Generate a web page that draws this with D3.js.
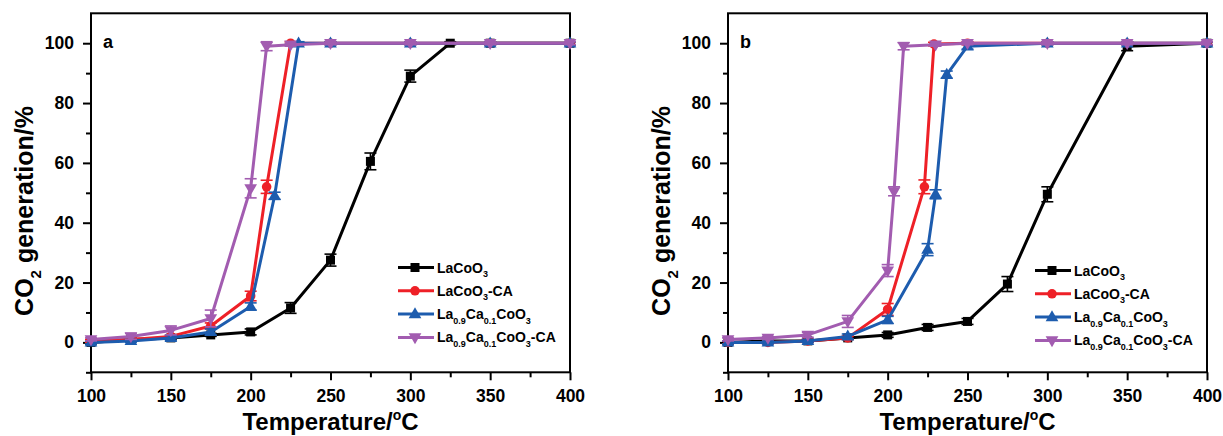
<!DOCTYPE html>
<html>
<head>
<meta charset="utf-8">
<script src="https://cdn.jsdelivr.net/npm/d3@7"></script>
<style>
  body { margin: 0; background: #fff; }
  svg { display: block; font-family: "Liberation Sans", Arial, sans-serif; font-weight: bold; }
</style>
</head>
<body>
<div id="chart"></div>
<script>
// ---- data ----
const seriesNames = ['LaCoO3', 'LaCoO3-CA', 'La0.9Ca0.1CoO3', 'La0.9Ca0.1CoO3-CA'];
const seriesColors = ['#000000', '#ee2027', '#1d5cae', '#a25cb0'];
const seriesSymbols = ['square', 'circle', 'triUp', 'triDown'];

// panel a
const aBlackX = [100, 125, 150, 175, 200, 225, 250, 275, 300, 325, 350, 400];
const aBlackY = [0, 1, 1.5, 2.5, 3.5, 11.5, 27.5, 60.5, 89, 100, 100, 100];
const aBlackE = [0.5, 0.5, 0.5, 0.5, 1, 1.8, 2, 2.8, 2, 0.5, 0.5, 0.5];
const aRedX = [100, 125, 150, 175, 200, 210, 225, 250, 300, 350, 400];
const aRedY = [0.5, 1, 2, 5.5, 15.5, 52, 100, 100, 100, 100, 100];
const aRedE = [0.5, 0.5, 0.5, 1, 1.6, 2.2, 0.5, 0.5, 0.5, 0.5, 0.5];
const aBlueX = [100, 125, 150, 175, 200, 215, 230, 250, 300, 350, 400];
const aBlueY = [0, 0.5, 1.5, 3.5, 12, 49, 100, 100, 100, 100, 100];
const aBlueE = [0.5, 0.5, 0.8, 1, 1.2, 1.2, 0.5, 0.5, 0.5, 0.5, 0.5];
const aPurpleX = [100, 125, 150, 175, 200, 210, 225, 250, 300, 350, 400];
const aPurpleY = [1, 2, 4, 8, 51.5, 99, 99.5, 100, 100, 100, 100];
const aPurpleE = [0.5, 1, 1.5, 2.8, 3.2, 1.5, 0.5, 0.5, 0.5, 0.5, 0.5];

// panel b
const bBlackX = [100, 125, 150, 175, 200, 225, 250, 275, 300, 350, 400];
const bBlackY = [0, 0.5, 0.5, 1.5, 2.5, 5, 7, 19.5, 49.5, 99, 100];
const bBlackE = [0.5, 0.5, 0.5, 0.5, 0.8, 1, 1, 2.5, 2.5, 1.5, 0.5];
const bRedX = [100, 125, 150, 175, 200, 223, 229, 250, 300, 350, 400];
const bRedY = [0, 0, 0.5, 1.5, 11, 52, 99.7, 100, 100, 100, 100];
const bRedE = [0.5, 0.5, 0.5, 0.5, 2, 2.3, 0.6, 0.5, 0.5, 0.5, 0.5];
const bBlueX = [100, 125, 150, 175, 200, 225, 230, 237, 250, 300, 350, 400];
const bBlueY = [0, 0, 0.5, 2, 7.5, 31, 49.5, 89.5, 99, 100, 100, 100];
const bBlueE = [0.5, 0.5, 0.5, 0.8, 1.2, 2, 1.5, 1.2, 1, 0.5, 0.5, 0.5];
const bPurpleX = [100, 125, 150, 175, 200, 204, 210, 230, 250, 300, 350, 400];
const bPurpleY = [1, 1.5, 2.5, 7, 24, 50.5, 99, 99.5, 100, 100, 100, 100];
const bPurpleE = [0.5, 0.5, 0.8, 2, 2, 1.5, 1.2, 0.5, 0.5, 0.5, 0.5, 0.5];

const xMajor = [100, 150, 200, 250, 300, 350, 400];
const xMinor = [125, 175, 225, 275, 325, 375];
const yMajor = [0, 20, 40, 60, 80, 100];
const yMinor = [-10, 10, 30, 50, 70, 90];

function zip(xs, ys, es) {
  return xs.map((x, i) => ({ x: x, y: ys[i], e: es[i] }));
}

const panels = [
  { label: 'a', left: 91, legendDy: 0,
    series: [zip(aBlackX, aBlackY, aBlackE), zip(aRedX, aRedY, aRedE), zip(aBlueX, aBlueY, aBlueE), zip(aPurpleX, aPurpleY, aPurpleE)] },
  { label: 'b', left: 728, legendDy: 3,
    series: [zip(bBlackX, bBlackY, bBlackE), zip(bRedX, bRedY, bRedE), zip(bBlueX, bBlueY, bBlueE), zip(bPurpleX, bPurpleY, bPurpleE)] }
];

const W = 1223, H = 436;
const plotW = 479, plotTop = 13.3, plotBottom = 372.3;

const svg = d3.select('#chart').append('svg').attr('width', W).attr('height', H);

function drawSymbol(g, kind, color, x, y) {
  if (kind === 'square') {
    g.append('rect').attr('x', x - 4.5).attr('y', y - 4.5).attr('width', 9).attr('height', 9).attr('fill', color);
  } else if (kind === 'circle') {
    g.append('circle').attr('cx', x).attr('cy', y).attr('r', 4.8).attr('fill', color);
  } else {
    const s = d3.symbol().type(d3.symbolTriangle).size(70)();
    g.append('path').attr('d', s).attr('fill', color)
      .attr('transform', `translate(${x},${y + (kind === 'triUp' ? 0.5 : -0.5)})` + (kind === 'triDown' ? ' rotate(180)' : ''));
  }
}

// text with sub/superscripts: parts = [[text, 'sub'|'sup'|null], ...]
function richText(t, parts, baseSize, subSize) {
  parts.forEach((p, i) => {
    const ts = t.append('tspan').text(p[0]);
    let dy = 0;
    if (i > 0 && parts[i - 1][1] === 'sub') dy -= baseSize * 0.32;
    if (i > 0 && parts[i - 1][1] === 'sup') dy += baseSize * 0.42;
    if (p[1] === 'sub') dy += baseSize * 0.32;
    if (p[1] === 'sup') dy -= baseSize * 0.42;
    ts.attr('font-size', p[1] ? subSize : baseSize);
    if (dy) ts.attr('dy', dy);
  });
}

const legendParts = [
  [['LaCoO', null], ['3', 'sub']],
  [['LaCoO', null], ['3', 'sub'], ['-CA', null]],
  [['La', null], ['0.9', 'sub'], ['Ca', null], ['0.1', 'sub'], ['CoO', null], ['3', 'sub']],
  [['La', null], ['0.9', 'sub'], ['Ca', null], ['0.1', 'sub'], ['CoO', null], ['3', 'sub'], ['-CA', null]]
];

panels.forEach(p => {
  const x = d3.scaleLinear().domain([100, 400]).range([p.left, p.left + plotW]);
  const y = d3.scaleLinear().domain([-10, 110]).range([plotBottom, plotTop]);
  const g = svg.append('g');

  // axes
  const xAxis = d3.axisBottom(x).tickValues(xMajor).tickSize(8).tickPadding(9).tickFormat(d3.format('d'));
  const xAxisMinor = d3.axisBottom(x).tickValues(xMinor).tickSize(5).tickFormat('');
  const yAxis = d3.axisLeft(y).tickValues(yMajor).tickSize(8).tickPadding(9).tickFormat(d3.format('d'));
  const yAxisMinor = d3.axisLeft(y).tickValues(yMinor).tickSize(5).tickFormat('');

  [[xAxis, 'x'], [xAxisMinor, 'x'], [yAxis, 'y'], [yAxisMinor, 'y']].forEach(([ax, k]) => {
    const ag = g.append('g')
      .attr('transform', k === 'x' ? `translate(0,${plotBottom})` : `translate(${p.left},0)`)
      .call(ax);
    ag.select('.domain').remove();
    ag.selectAll('line').attr('stroke', '#000').attr('stroke-width', 2);
    ag.selectAll('text').attr('font-size', 17.5).attr('fill', '#000')
      .attr('font-family', '"Liberation Sans", Arial, sans-serif').attr('font-weight', 'bold');
  });

  g.append('rect').attr('x', p.left).attr('y', plotTop).attr('width', plotW).attr('height', plotBottom - plotTop)
    .attr('fill', 'none').attr('stroke', '#000').attr('stroke-width', 2);

  // series
  const line = d3.line().x(d => x(d.x)).y(d => y(d.y));
  p.series.forEach((data, i) => {
    const c = seriesColors[i];
    const sg = g.append('g');
    sg.append('path').datum(data).attr('d', line).attr('fill', 'none')
      .attr('stroke', c).attr('stroke-width', 3).attr('stroke-linejoin', 'round');
    data.forEach(d => {
      const cx = x(d.x), y1 = y(d.y + d.e), y2 = y(d.y - d.e);
      sg.append('line').attr('x1', cx).attr('x2', cx).attr('y1', y1).attr('y2', y2)
        .attr('stroke', c).attr('stroke-width', 1.6);
      [y1, y2].forEach(yy => sg.append('line').attr('x1', cx - 6).attr('x2', cx + 6).attr('y1', yy).attr('y2', yy)
        .attr('stroke', c).attr('stroke-width', 1.6));
      drawSymbol(sg, seriesSymbols[i], c, cx, y(d.y));
    });
  });

  // panel label
  g.append('text').attr('x', p.left + 12).attr('y', 48).attr('font-size', 18).text(p.label);

  // legend
  const lx = p.left + 307, ly = 267.5 + p.legendDy;
  seriesNames.forEach((name, i) => {
    const yy = ly + i * 23.3;
    g.append('line').attr('x1', lx).attr('x2', lx + 36).attr('y1', yy).attr('y2', yy)
      .attr('stroke', seriesColors[i]).attr('stroke-width', 3);
    drawSymbol(g, seriesSymbols[i], seriesColors[i], lx + 17, yy);
    const t = g.append('text').attr('x', lx + 39).attr('y', yy + 5);
    richText(t, legendParts[i], 14, 9);
  });

  // axis titles
  const xt = g.append('text').attr('x', (x.range()[0] + x.range()[1]) / 2).attr('y', 430)
    .attr('text-anchor', 'middle');
  richText(xt, [['Temperature/', null], ['o', 'sup'], ['C', null]], 24, 14);

  const yt = g.append('text').attr('text-anchor', 'middle')
    .attr('transform', `translate(${p.left - 58},211) rotate(-90)`);
  richText(yt, [['CO', null], ['2', 'sub'], [' generation/%', null]], 25, 15);
});
</script>
</body>
</html>
